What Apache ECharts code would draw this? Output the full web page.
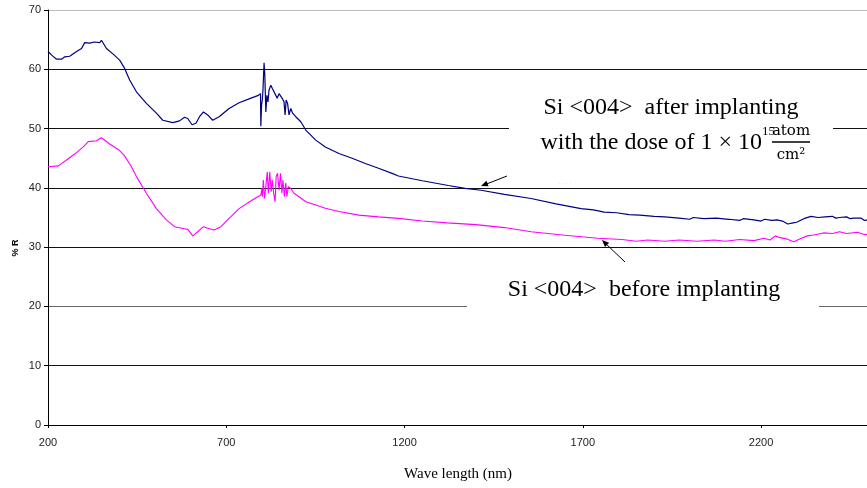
<!DOCTYPE html>
<html>
<head>
<meta charset="utf-8">
<script src="https://cdn.jsdelivr.net/npm/echarts@6/dist/echarts.min.js"></script>
<style>
html,body{margin:0;padding:0;background:#fff;overflow:hidden;width:867px;height:488px;}
#chart{width:871px;height:488px;}
</style>
</head>
<body>
<div id="chart"></div>
<script>
// Tick settings
var xTicks = [200, 700, 1200, 1700, 2200];
var yTicks = [0, 10, 20, 30, 40, 50, 60, 70];

// After implanting (navy)
var afterWave = [200,212,224,238,247,261,280,294,303,317,330,345,350,364,382,401,415,429,448,476,504,522,550,569,583,592,604,615,625,636,648,662,680,708,736,764,790,796,797,799,801,803,806,808,811,814,817,820,825,829,834,839,843,848,853,857,862,865,868,872,876,881,886,890,895,899,909,923,951,978,1016,1053,1090,1127,1165,1183,1250,1323,1370,1415,1480,1555,1625,1695,1730,1760,1795,1830,1860,1900,1930,1970,2000,2010,2040,2075,2110,2140,2150,2180,2200,2210,2230,2245,2260,2275,2290,2300,2320,2340,2360,2380,2400,2410,2420,2440,2450,2460,2480,2490,2500];
var afterR = [63.0,62.3,61.7,61.7,62.1,62.2,63.0,63.5,64.5,64.4,64.6,64.5,64.9,63.5,62.6,61.55,60.15,58.2,56.2,54.25,52.6,51.4,51.0,51.3,51.9,51.7,50.65,50.9,52.0,52.8,52.3,51.4,52.0,53.4,54.35,55.0,55.6,55.9,50.4,54.0,54.8,56.5,61.1,59.3,52.8,55.6,54.5,56.5,57.3,56.8,57.05,55.6,55.1,55.9,56.2,55.1,54.5,52.3,54.8,54.25,52.3,53.4,52.6,52.3,52.0,51.7,51.15,49.75,48.05,46.9,45.8,45.0,44.1,43.3,42.45,42.0,41.2,40.4,39.9,39.6,38.9,38.2,37.3,36.5,36.3,35.9,35.8,35.5,35.4,35.2,35.1,34.9,34.7,35.0,34.8,34.9,34.7,34.5,34.8,34.6,34.4,34.7,34.5,34.6,34.4,33.9,34.1,34.2,34.8,35.2,35.0,35.1,35.2,34.9,35.0,35.1,34.8,34.9,34.9,34.5,34.6];

// Before implanting (magenta)
var beforeWave = [200,229,252,275,299,313,336,350,373,401,415,434,448,476,504,532,555,583,592,606,620,636,648,666,685,708,736,773,797,800,801,804,807,811,815,818,822,826,829,833,837,840,844,848,852,856,859,863,867,870,874,881,890,904,923,951,978,1016,1072,1127,1183,1250,1320,1400,1480,1555,1650,1742,1810,1850,1882,1930,1970,2020,2069,2100,2140,2180,2208,2225,2240,2253,2270,2292,2310,2330,2348,2375,2400,2420,2440,2470,2485,2500];
var beforeR = [43.55,43.7,44.7,45.7,46.9,47.8,47.95,48.45,47.4,46.3,45.4,43.55,41.9,39.1,36.5,34.6,33.45,33.1,33.0,31.9,32.6,33.45,33.2,32.9,33.45,34.85,36.5,37.95,38.8,39.9,38.5,41.3,38.2,40.2,42.7,39.1,42.7,39.35,41.3,39.1,37.65,41.9,42.45,39.6,42.45,39.1,41.3,38.5,40.8,38.5,40.2,39.9,39.1,38.5,37.65,37.1,36.55,36.0,35.4,35.1,34.85,34.4,34.1,33.8,33.3,32.6,32.0,31.5,31.3,31.0,31.2,31.0,31.2,31.0,31.2,31.0,31.3,31.1,31.5,31.2,31.9,31.6,31.4,30.9,31.4,31.9,32.05,32.4,32.3,32.6,32.3,32.5,32.2,32.1];

function pairs(xs, ys){ return xs.map(function(x,i){ return [x, ys[i]]; }); }

var chart = echarts.init(document.getElementById('chart'), null, {renderer:'canvas'});
var serifFont = "'Liberation Serif','Times New Roman',serif";
var sansFont = "'Liberation Sans',Arial,sans-serif";

chart.setOption({
  animation:false,
  backgroundColor:'#ffffff',
  grid:{left:48, right:0, top:10, bottom:63, containLabel:false},
  xAxis:{
    type:'value', min:200, max:2500, interval:500,
    name:'Wave length (nm)', nameLocation:'middle', nameGap:42,
    nameTextStyle:{fontFamily:serifFont, fontSize:15, color:'#000'},
    axisLine:{show:true, onZero:false, lineStyle:{color:'#000', width:1}},
    axisTick:{show:true, length:3, lineStyle:{color:'#000'}},
    axisLabel:{fontFamily:sansFont, fontSize:11, color:'#222', margin:12,
      formatter:function(v){ return xTicks.indexOf(v) >= 0 ? String(v) : ''; }},
    splitLine:{show:false}
  },
  yAxis:{
    type:'value', min:0, max:70, interval:10,
    axisLine:{show:true, lineStyle:{color:'#000', width:1}},
    axisTick:{show:true, length:4, lineStyle:{color:'#000'}},
    axisLabel:{fontFamily:sansFont, fontSize:11, color:'#222', margin:7,
      formatter:function(v){ return yTicks.indexOf(v) >= 0 ? String(v) : ''; }},
    splitLine:{show:true, lineStyle:{color:['#000','#111','#666','#111','#111','#111','#111','#bbb'], width:1}}
  },
  series:[
    {type:'line', name:'after', data:pairs(afterWave, afterR), showSymbol:false, symbol:'none',
      lineStyle:{color:'#000080', width:1.2}, z:3},
    {type:'line', name:'before', data:pairs(beforeWave, beforeR), showSymbol:false, symbol:'none',
      lineStyle:{color:'#ff00ff', width:1.1}, z:3}
  ],
  graphic:[
    {type:'text', x:16, y:248, rotation:Math.PI/2, style:{text:'% R', font:"bold 9px 'Liberation Sans',Arial,sans-serif", fill:'#000', align:'center', verticalAlign:'middle'}},
    // annotation 1
    {type:'rect', shape:{x:509, y:92, width:324, height:78}, style:{fill:'#fff'}, z:10},
    {type:'text', x:671, y:108, z:11, style:{text:'Si <004>  after implanting', font:"24px 'Liberation Serif','Times New Roman',serif", fill:'#000', align:'center', verticalAlign:'middle'}},
    {type:'text', x:762, y:143, z:11, style:{text:'with the dose of 1 \u00d7 10', font:"24px 'Liberation Serif','Times New Roman',serif", fill:'#000', align:'right', verticalAlign:'middle'}},
    {type:'text', x:762, y:132, z:11, style:{text:'15', font:"13px 'Liberation Serif','Times New Roman',serif", fill:'#000', align:'left', verticalAlign:'middle'}},
    {type:'text', x:791, y:131, z:11, style:{text:'atom', font:"15px 'DejaVu Serif',serif", fill:'#000', align:'center', verticalAlign:'middle'}},
    {type:'line', z:11, shape:{x1:772, y1:142, x2:810, y2:142}, style:{stroke:'#000', lineWidth:1.3}},
    {type:'text', x:791, y:155, z:11, style:{text:'cm\u00b2', font:"15px 'DejaVu Serif',serif", fill:'#000', align:'center', verticalAlign:'middle'}},
    {type:'line', z:11, shape:{x1:507, y1:176, x2:484, y2:185}, style:{stroke:'#000', lineWidth:1}},
    {type:'polygon', z:11, shape:{points:[[481,186],[488.6,186.3],[486.4,180.7]]}, style:{fill:'#000'}},
    {type:'text', x:565, y:183, z:11, style:{text:'\u00b7 \u00b7 \u00b7 \u00b7', font:"6px sans-serif", fill:'#bbb', align:'center', verticalAlign:'middle'}},
    // annotation 2
    {type:'rect', shape:{x:467, y:268, width:352, height:50}, style:{fill:'#fff'}, z:10},
    {type:'text', x:644, y:290, z:11, style:{text:'Si <004>  before implanting', font:"24px 'Liberation Serif','Times New Roman',serif", fill:'#000', align:'center', verticalAlign:'middle'}},
    {type:'line', z:11, shape:{x1:625, y1:262, x2:604, y2:242}, style:{stroke:'#000', lineWidth:1}},
    {type:'polygon', z:11, shape:{points:[[602,240],[609.1,242.7],[605.0,247.0]]}, style:{fill:'#000'}}
  ]
});
</script>
</body>
</html>
